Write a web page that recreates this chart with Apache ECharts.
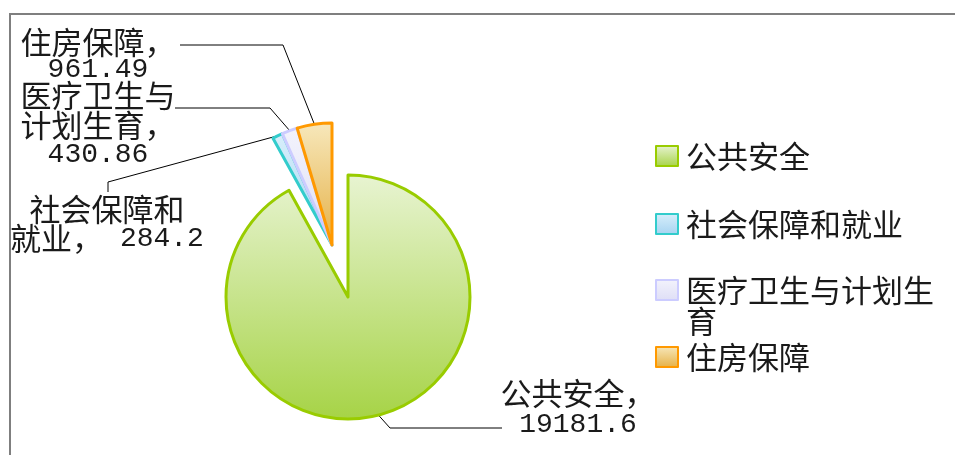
<!DOCTYPE html>
<html>
<head>
<meta charset="utf-8">
<title>支出结构</title>
<script src="https://cdn.jsdelivr.net/npm/echarts@6/dist/echarts.min.js"></script>
<style>
	html, body { margin: 0; padding: 0; background: #fff; }
	.frame { position: absolute; left: 9px; top: 13px; width: 946px; height: 442px; border-top: 2px solid #7f7f7f; border-left: 2px solid #7f7f7f; }
	#myChart1 { position: absolute; left: 0; top: 0; width: 955px; height: 455px; }
</style>
</head>
<body>
<div class="frame"></div>
<div id="myChart1"></div>
<script>
var names = ['公共安全', '社会保障和就业', '医疗卫生与计划生育', '住房保障'];
var values = [19181.6, 284.2, 430.86, 961.49];
var labelHeads = ['公共安全，\n', '社会保障和\n就业，', '医疗卫生与\n计划生育，\n', '住房保障，\n'];
var legendTexts = ['公共安全', '社会保障和就业', '\n医疗卫生与计划生\n育', '住房保障'];

var fills = [
	['#e8f4d2', '#a6d346'],
	['#d8effb', '#a6d3f1'],
	['#f3f3fc', '#dedef6'],
	['#f7e8bc', '#e5b045']
];
var borders = ['#99cc00', '#33cccc', '#ccccff', '#ff9900'];
// 标签: 中心x, 顶y, 行高, 折点x, 折点y, 端点x, 端点y
var labelSpots = [
	[578, 377, 32, 390, 428, 502, 428],
	[107, 195, 29, 108, 182, 108, 192],
	[98, 80, 30, 270, 108, 175, 108],
	[98, 28, 28, 283, 45, 180, 45]
];
var legendTops = [140.5, 208.5, 243.5, 341.5];
var FONT = '"Noto Sans CJK SC", "Noto Sans", sans-serif';
var NUMFONT = '"Liberation Mono", "DejaVu Sans Mono", monospace';

function grad(i){
	return new echarts.graphic.LinearGradient(0, 0, 0, 1, [
		{offset: 0, color: fills[i][0]},
		{offset: 1, color: fills[i][1]}
	]);
}

function pieData(showBig){
	var arr = [];
	for(var i = 0; i < names.length; i++){
		var on = showBig ? i == 0 : i != 0;
		var lh = labelSpots[i][2];
		arr.push({
			name: names[i],
			value: values[i],
			itemStyle: on ? {color: grad(i), borderColor: borders[i], borderWidth: 3}
				: {color: 'rgba(0,0,0,0)', borderWidth: 0},
			label: {
				show: on,
				lineHeight: lh,
				rich: {
					v: {fontFamily: NUMFONT, fontSize: 28, color: '#1a1a1a', lineHeight: lh}
				}
			},
			labelLine: {show: on}
		});
	}
	return arr;
}

function placeLabel(params){
	var s = labelSpots[params.dataIndex];
	var p = params.labelLinePoints;
	var res = {x: s[0], y: s[1], align: 'center', verticalAlign: 'top'};
	if(p){
		res.labelLinePoints = [p[0], [s[3], s[4]], [s[5], s[6]]];
	}
	return res;
}

function pieSeries(showBig, center){
	return {
		type: 'pie',
		radius: 122,
		center: center,
		startAngle: 90,
		clockwise: true,
		avoidLabelOverlap: false,
		emphasis: {disabled: true},
		label: {
			position: 'outside',
			color: '#1a1a1a',
			fontSize: 31,
			fontFamily: FONT,
			formatter: function(p){
				var sp = p.dataIndex == 1 ? ' ' : '';
				return labelHeads[p.dataIndex] + '{v|' + sp + p.value + '}';
			}
		},
		labelLine: {
			lineStyle: {color: '#000', width: 1}
		},
		labelLayout: placeLabel,
		data: pieData(showBig)
	};
}

function legends(){
	var arr = [];
	for(var i = 0; i < names.length; i++){
		arr.push({
			orient: 'vertical',
			left: 655,
			top: legendTops[i],
			padding: 0,
			icon: 'rect',
			itemWidth: 22,
			itemHeight: 20,
			selectedMode: false,
			data: [{
				name: names[i],
				itemStyle: {color: grad(i), borderColor: borders[i], borderWidth: 2}
			}],
			formatter: (function(t){ return function(){ return t; }; })(legendTexts[i]),
			textStyle: {
				color: '#1a1a1a',
				fontSize: 31,
				lineHeight: 31,
				fontFamily: FONT,
				padding: [0, 0, 0, 3]
			}
		});
	}
	return arr;
}

var myChart1 = echarts.init(document.getElementById('myChart1'));
myChart1.setOption({
	animation: false,
	legend: legends(),
	series: [
		pieSeries(true, [348, 297]),
		pieSeries(false, [332, 245])
	]
});
</script>
</body>
</html>
